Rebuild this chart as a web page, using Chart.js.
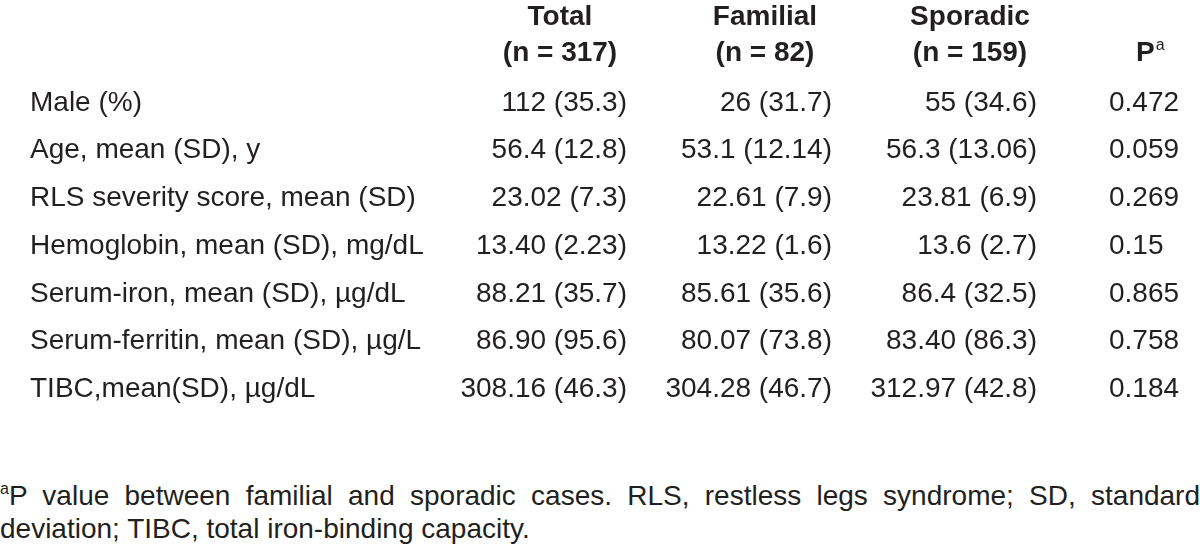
<!DOCTYPE html>
<html>
<head>
<meta charset="utf-8">
<script src="https://cdn.jsdelivr.net/npm/chart.js@4.4.1/dist/chart.umd.min.js"></script>
<style>
  body { margin: 0; background: #fff; width: 1200px; height: 556px; overflow: hidden; position: relative;
         font-family: "Liberation Sans", Arial, sans-serif; color: #231f20; }
  #chartContainer { position: absolute; left: 0; top: 0; width: 1200px; height: 430px; }
  #nota { position: absolute; left: 0; top: 479px; width: 1200px; margin: 0;
          font-size: 28px; line-height: 33px; text-align: justify; }
  #nota sup { font-size: 16px; line-height: 0; vertical-align: 11px; }
</style>
</head>
<body>
<div id="chartContainer"><canvas id="tabela"></canvas></div>
<p id="nota"><sup>a</sup>P value between familial and sporadic cases. RLS, restless legs syndrome; SD, standard deviation; TIBC, total iron-binding capacity.</p>
<script>
// linhas da tabela
const linhas = [
  'Male (%)',
  'Age, mean (SD), y',
  'RLS severity score, mean (SD)',
  'Hemoglobin, mean (SD), mg/dL',
  'Serum-iron, mean (SD), µg/dL',
  'Serum-ferritin, mean (SD), µg/L',
  'TIBC,mean(SD), µg/dL'
];

// colunas e cabeçalhos
const colunas = ['Total', 'Familial', 'Sporadic', 'P'];
const cabecalhos = [['Total', '(n = 317)'], ['Familial', '(n = 82)'], ['Sporadic', '(n = 159)'], ['P']];

// valores de cada coluna
const total = ['112 (35.3)', '56.4 (12.8)', '23.02 (7.3)', '13.40 (2.23)', '88.21 (35.7)', '86.90 (95.6)', '308.16 (46.3)'];
const familial = ['26 (31.7)', '53.1 (12.14)', '22.61 (7.9)', '13.22 (1.6)', '85.61 (35.6)', '80.07 (73.8)', '304.28 (46.7)'];
const sporadic = ['55 (34.6)', '56.3 (13.06)', '23.81 (6.9)', '13.6 (2.7)', '86.4 (32.5)', '83.40 (86.3)', '312.97 (42.8)'];
const pValor = ['0.472', '0.059', '0.269', '0.15', '0.865', '0.758', '0.184'];

const corTexto = '#231f20';
const fonte = '"Liberation Sans", Arial, sans-serif';
const tamanho = 28;

document.addEventListener("DOMContentLoaded", function () {
  const ctx = document.getElementById('tabela').getContext('2d');

  const valores = [total, familial, sporadic, pValor];

  // um dataset por coluna, um ponto por linha (pontos invisíveis)
  const datasets = colunas.map((c, j) => ({
    label: c,
    valores: valores[j],
    data: linhas.map(l => ({ x: c, y: l })),
    showLine: false,
    pointRadius: 0,
    pointHoverRadius: 0
  }));

  // escreve o texto das células e dos cabeçalhos nas posições das escalas
  const celulas = {
    id: 'celulas',
    afterDatasetsDraw(chart) {
      const c = chart.ctx;
      const top = chart.chartArea.top;
      const n = chart.data.datasets.length;
      c.save();
      c.fillStyle = corTexto;
      c.textBaseline = 'middle';
      chart.data.datasets.forEach((ds, j) => {
        const meta = chart.getDatasetMeta(j);
        const ultima = j === n - 1;
        c.font = tamanho + 'px ' + fonte;
        c.textAlign = ultima ? 'left' : 'right';
        meta.data.forEach((pt, i) => {
          const x = ultima ? pt.x - 66 : pt.x + 67;
          c.fillText(ds.valores[i], x, pt.y);
        });

        // cabeçalho
        const cx = chart.scales.x.getPixelForValue(j);
        const cab = cabecalhos[j];
        c.font = 'bold ' + tamanho + 'px ' + fonte;
        if (ultima) {
          c.textAlign = 'left';
          const xp = cx - 39;
          c.fillText(cab[0], xp, top - 26);
          const w = c.measureText(cab[0]).width;
          c.font = '16px ' + fonte;
          c.fillText('a', xp + w + 1, top - 33);
        } else {
          c.textAlign = 'center';
          c.fillText(cab[0], cx, top - 62);
          c.fillText(cab[1], cx, top - 26);
        }
      });
      c.restore();
    }
  };

  new Chart(ctx, {
    type: 'line',
    data: { labels: colunas, datasets: datasets },
    options: {
      responsive: true,
      maintainAspectRatio: false,
      animation: false,
      events: [],
      layout: { padding: { left: 30, right: 25, top: 79, bottom: 13 } },
      plugins: { legend: { display: false }, tooltip: { enabled: false } },
      scales: {
        x: {
          type: 'category',
          display: false,
          offset: false
        },
        y: {
          type: 'category',
          labels: linhas,
          offset: true,
          grid: { display: false },
          border: { display: false },
          ticks: {
            autoSkip: false,
            crossAlign: 'far',
            padding: 0,
            color: corTexto,
            font: { size: tamanho, family: fonte }
          },
          afterFit: function (s) { s.width = 530; }
        }
      }
    },
    plugins: [celulas]
  });
});
</script>
</body>
</html>
